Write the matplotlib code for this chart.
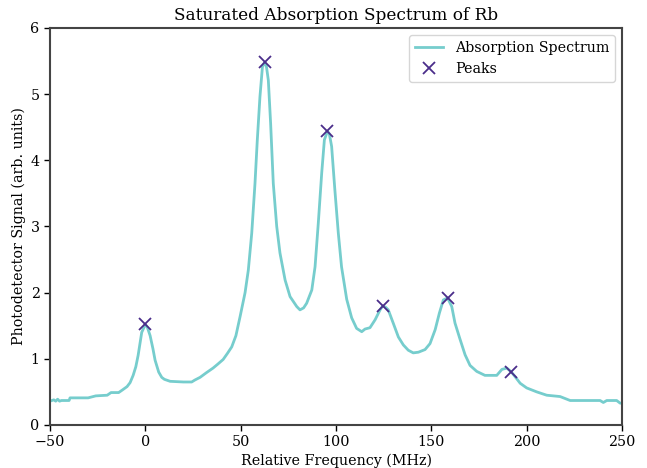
import numpy as np
import matplotlib.pyplot as plt

# Spectrum trace
freq = [-50, -48, -47, -46, -45, -44, -40, -39.5, -30, -26, -20, -18, -14, -12,
        -9.6, -8, -6.4, -5, -3.8, -1.9, 0, 1, 2.5, 4, 5.1, 7, 8.6, 10, 13,
        20, 24.3, 26, 28.7, 32, 35.5, 38, 40.8, 43, 45.3, 47.5, 49.7,
        52.3, 54, 55.8, 57.5, 58.7, 60.1, 61.4, 62.5, 63.5, 64.5, 65.7, 67.1,
        68.9, 70.6, 73.3, 75.9, 79.4, 81.1, 83, 84.6, 87.3, 89, 90.7, 92.5,
        93.9, 95.5, 96.5, 97.7, 99.4, 101.2, 102.9, 104.5, 105.6, 108.2,
        110.8, 113.5, 115.2, 117.8, 120.5, 123.1, 124.5, 126, 127.4, 130,
        132.7, 135.3, 137.9, 140.5, 143.2, 146.7, 149.3, 152, 154.2, 156.3,
        158.5, 160.7, 162.4, 165, 167.7, 170.3, 173.8, 178.1, 184.3, 187,
        189.6, 192, 193.9, 196.6, 200, 205.3, 210.5, 217.5, 222.8, 238.5,
        240.2, 242, 247.2, 249, 250]
signal = [0.36, 0.38, 0.36, 0.39, 0.36, 0.37, 0.37, 0.41, 0.41, 0.44, 0.45,
          0.49, 0.49, 0.53, 0.58, 0.64, 0.75, 0.88, 1.05, 1.40, 1.52, 1.48,
          1.35, 1.15, 0.98, 0.80, 0.72, 0.69, 0.66, 0.65, 0.65, 0.68, 0.72,
          0.79, 0.86, 0.92, 0.99, 1.08, 1.18, 1.35, 1.64, 2.00, 2.34, 2.90,
          3.65, 4.30, 4.96, 5.41, 5.48, 5.42, 5.21, 4.56, 3.65, 3.00, 2.60,
          2.19, 1.94, 1.79, 1.74, 1.77, 1.84, 2.04, 2.39, 3.05, 3.81, 4.31,
          4.44, 4.40, 4.21, 3.55, 2.90, 2.39, 2.10, 1.90, 1.62, 1.46, 1.41,
          1.45, 1.47, 1.59, 1.74, 1.80, 1.78, 1.74, 1.54, 1.33, 1.21, 1.13,
          1.09, 1.10, 1.14, 1.23, 1.44, 1.69, 1.89, 1.92, 1.79, 1.54, 1.30,
          1.06, 0.90, 0.81, 0.75, 0.75, 0.84, 0.86, 0.80, 0.73, 0.63, 0.56,
          0.50, 0.45, 0.43, 0.37, 0.37, 0.34, 0.37, 0.37, 0.33, 0.33]

# Detected peaks
peak_freq = [0, 62.5, 95.5, 124.5, 158.5, 192]
peak_signal = [1.52, 5.48, 4.44, 1.80, 1.92, 0.80]

plt.rcParams['font.family'] = ['DejaVu Serif']

fig = plt.figure(figsize=(6.47, 4.68), dpi=100)
ax = fig.add_axes([0.0773, 0.0919, 0.8841, 0.8483])

ax.plot(freq, signal, color='#76cdcd', linewidth=2, label='Absorption Spectrum')
ax.plot(peak_freq, peak_signal, 'x', color='#4a2d8a', markersize=8,
        markeredgewidth=1.3, label='Peaks')

ax.set_xlim(-50, 250)
ax.set_ylim(0, 6)
ax.set_xticks(np.arange(-50, 251, 50))
ax.set_yticks(np.arange(0, 7, 1))
ax.tick_params(labelsize=10.3, length=4, width=1)

for s in ax.spines.values():
    s.set_color('#444444')
    s.set_linewidth(1.5)

ax.set_title('Saturated Absorption Spectrum of Rb', fontsize=12.2)
ax.set_xlabel('Relative Frequency (MHz)', fontsize=10.3, labelpad=3)
ax.set_ylabel('Photodetector Signal (arb. units)', fontsize=10.3, labelpad=3)
ax.legend(loc='upper right', fontsize=10.3)

fig.savefig('out.png', dpi=100)
